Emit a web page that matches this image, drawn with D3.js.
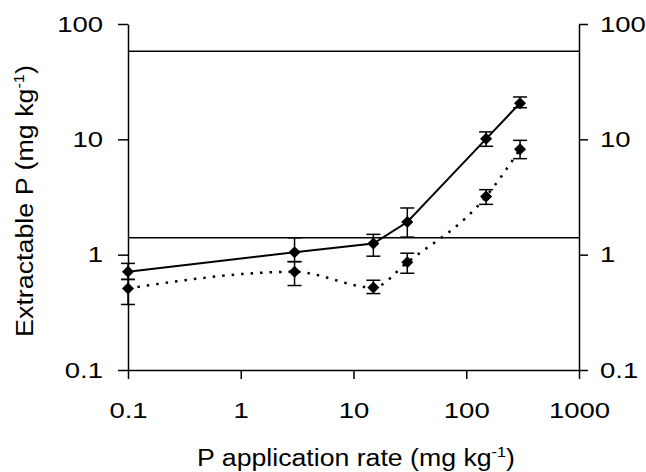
<!DOCTYPE html>
<html>
<head>
<meta charset="utf-8">
<script src="https://cdn.jsdelivr.net/npm/d3@7"></script>
<style>
    body { margin: 0; background: #fff; }
    svg { display: block; }
    text { font-family: "Liberation Sans", Arial, Helvetica, sans-serif; fill: #000; }
</style>
</head>
<body>
<svg id="chart"></svg>
<script>
// data
var rates = [0.1, 3, 15, 30, 150, 300];

var solidMean = [0.71, 1.05, 1.25, 1.92, 10.1, 20.6];
var solidLow = [0.61, 0.87, 0.97, 1.42, 8.7, 18.8];
var solidHigh = [0.84, 1.40, 1.50, 2.54, 11.6, 23.3];

var dottedMean = [0.51, 0.71, 0.52, 0.86, 3.2, 8.2];
var dottedLow = [0.37, 0.54, 0.46, 0.69, 2.73, 6.8];
var dottedHigh = [0.61, 0.87, 0.60, 1.03, 3.66, 9.8];

var refLevels = [58, 1.4];

var xTicks = [0.1, 1, 10, 100, 1000];
var yTicks = [0.1, 1, 10, 100];

// layout
var iW = 646, iH = 472;
var margin = { top: 24, right: 67, bottom: 102, left: 128 };
var iw = iW - margin.left - margin.right;
var ih = iH - margin.top - margin.bottom;
var fStretch = 1.25; // the original glyphs are wider than Arial
var sFont = '"Liberation Sans", Arial, Helvetica, sans-serif';

var svg = d3.select("#chart")
    .attr("width", iW)
    .attr("height", iH);

var chart = svg.append("g")
    .attr("transform", `translate(${margin.left}, ${margin.top})`);

// scales
var xScale = d3.scaleLog().domain([0.1, 1000]).range([0, iw]);
var yScale = d3.scaleLog().domain([0.1, 100]).range([ih, 0]);
var fmt = d3.format("~g");

// reference lines
chart.selectAll(".ref")
    .data(refLevels)
    .enter().append("line")
    .attr("x1", 0)
    .attr("x2", iw)
    .attr("y1", d => yScale(d))
    .attr("y2", d => yScale(d))
    .attr("stroke", "#000")
    .attr("stroke-width", 1.5);

function styleAxis(g) {
    g.attr("font-size", 22).attr("font-family", sFont);
    g.select(".domain").attr("stroke", "#000").attr("stroke-width", 1.5);
    g.selectAll(".tick line").attr("stroke", "#000").attr("stroke-width", 1.5);
    g.selectAll(".tick text").each(function() {
        var t = d3.select(this);
        var x0 = +t.attr("x") || 0;
        t.attr("x", x0 / fStretch).attr("transform", `scale(${fStretch},1)`);
    });
}

// axes
chart.append("g")
    .call(d3.axisLeft(yScale).tickValues(yTicks).tickFormat(fmt)
        .tickSizeInner(10).tickSizeOuter(0).tickPadding(15))
    .call(styleAxis);

chart.append("g")
    .attr("transform", `translate(${iw}, 0)`)
    .call(d3.axisRight(yScale).tickValues(yTicks).tickFormat(fmt)
        .tickSizeInner(9).tickSizeOuter(0).tickPadding(12))
    .call(styleAxis);

chart.append("g")
    .attr("transform", `translate(0, ${ih})`)
    .call(d3.axisBottom(xScale).tickValues(xTicks).tickFormat(fmt)
        .tickSizeInner(9).tickSizeOuter(0).tickPadding(23))
    .call(styleAxis);

// series: solid one is straight segments, dotted one is smoothed
var aSeries = [
    { mean: solidMean, low: solidLow, high: solidHigh, dash: null, width: 2, curve: d3.curveLinear },
    { mean: dottedMean, low: dottedLow, high: dottedHigh, dash: "2.5,7", width: 2.5, curve: d3.curveMonotoneX }
];

var iCap = 7;
var diamond = d3.symbol().type(d3.symbolDiamond2).size(92);

aSeries.forEach(function(s) {
    var line = d3.line()
        .x((d, i) => xScale(rates[i]))
        .y(d => yScale(d))
        .curve(s.curve);

    chart.append("path")
        .datum(s.mean)
        .attr("fill", "none")
        .attr("stroke", "#000")
        .attr("stroke-width", s.width)
        .attr("stroke-dasharray", s.dash)
        .attr("d", line);
});

aSeries.forEach(function(s) {
    var g = chart.append("g").attr("stroke", "#000").attr("stroke-width", 1.5);
    rates.forEach(function(r, i) {
        var x = xScale(r);
        g.append("line")
            .attr("x1", x).attr("x2", x)
            .attr("y1", yScale(s.low[i])).attr("y2", yScale(s.high[i]));
        [s.low[i], s.high[i]].forEach(function(v) {
            g.append("line")
                .attr("x1", x - iCap).attr("x2", x + iCap)
                .attr("y1", yScale(v)).attr("y2", yScale(v));
        });
    });

    chart.append("g").selectAll("path")
        .data(s.mean)
        .enter().append("path")
        .attr("transform", (d, i) => `translate(${xScale(rates[i])}, ${yScale(d)})`)
        .attr("d", diamond)
        .attr("fill", "#000");
});

// axis titles
function stretchTo(sel, fTarget) {
    var w = sel.node().getComputedTextLength();
    return fTarget / w;
}

var xTitle = svg.append("text")
    .attr("text-anchor", "middle")
    .attr("font-size", 23);
xTitle.append("tspan").text("P application rate (mg kg");
xTitle.append("tspan").attr("font-size", 14).attr("dy", -9).text("-1");
xTitle.append("tspan").attr("dy", 9).text(")");
var kx = stretchTo(xTitle, 318);
xTitle.attr("transform", `translate(356, 466) scale(${kx},1)`);

var yTitle = svg.append("text")
    .attr("text-anchor", "middle")
    .attr("font-size", 23);
yTitle.append("tspan").text("Extractable P (mg kg");
yTitle.append("tspan").attr("font-size", 14).attr("dy", -9).text("-1");
yTitle.append("tspan").attr("dy", 9).text(")");
var ky = stretchTo(yTitle, 272);
yTitle.attr("transform", `translate(33, 201) rotate(-90) scale(${ky},1)`);
</script>
</body>
</html>
